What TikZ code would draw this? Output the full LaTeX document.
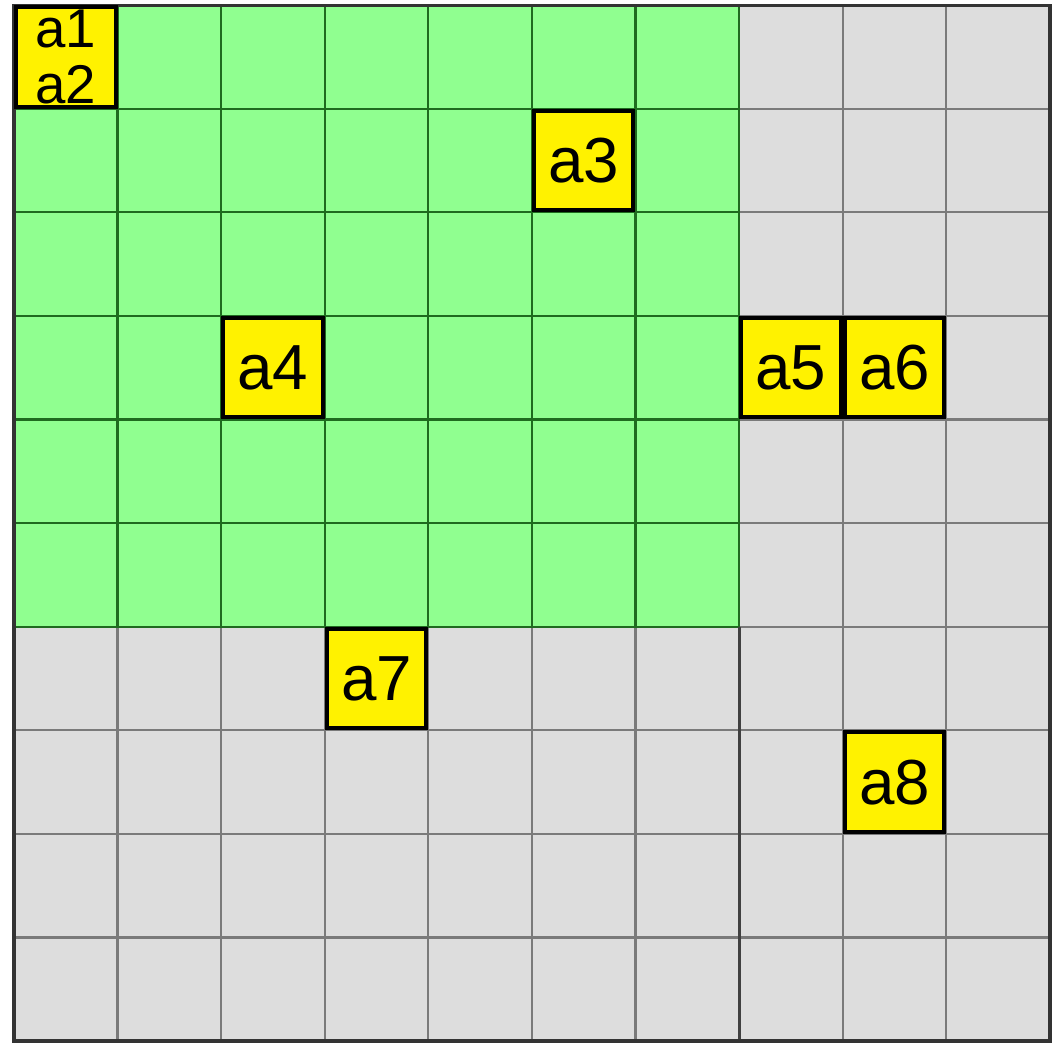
\documentclass[tikz,border=0pt]{standalone}
\usepackage{fontspec}
\setmainfont{Liberation Sans}
\definecolor{zonegreen}{HTML}{90FF90}
\definecolor{cellgrey}{HTML}{DDDDDD}
\definecolor{gridgreen}{HTML}{1F6B1F}
\definecolor{gridgrey}{HTML}{7A7A7A}
\begin{document}
\begin{tikzpicture}[
  agent/.style={draw=black, line width=1.1pt, fill=yellow, minimum size=0.96cm,
    inner sep=0pt, font=\fontsize{17.5}{18}\selectfont},
]
\useasboundingbox (-0.135,-0.02) rectangle (10.03,10.05);
% Cells
\fill[cellgrey] (0,0) rectangle (10,10);
\fill[zonegreen] (0,4) rectangle (7,10);

% Grid lines
\draw[gridgrey, line width=0.6pt] (0,0) grid (10,10);
\draw[gridgreen, line width=0.6pt] (0,4) grid (7,10);
\draw[black!75, line width=0.8pt] (7,0) -- (7,4);
\draw[black!80, line width=0.9pt] (0,0) rectangle (10,10);

% Agents
\node[agent, align=left, font=\fontsize{15}{15.5}\selectfont] (a12) at (0.5,9.5) {a1\\a2};
\node[agent] (a3) at (5.5,8.5) {a3};
\node[agent] (a4) at (2.5,6.5) {a4};
\node[agent] (a5) at (7.5,6.5) {a5};
\node[agent] (a6) at (8.5,6.5) {a6};
\node[agent] (a7) at (3.5,3.5) {a7};
\node[agent] (a8) at (8.5,2.5) {a8};

\end{tikzpicture}
\end{document}
